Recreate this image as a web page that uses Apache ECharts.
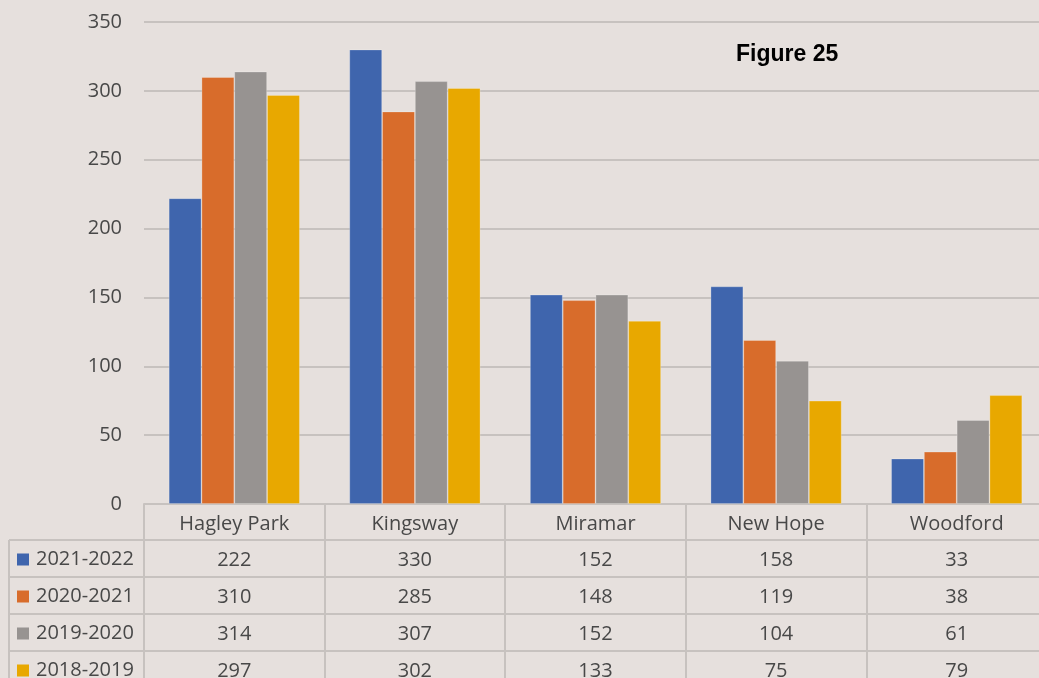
<!DOCTYPE html>
<html>
<head>
<meta charset="utf-8">
<script src="https://cdn.jsdelivr.net/npm/echarts@6/dist/echarts.min.js"></script>
<style>
html,body{margin:0;padding:0;background:#e6e0dd;overflow:hidden;width:1039px;height:678px;}
#chart{width:1047px;height:678px;}
</style>
</head>
<body>
<div id="chart"></div>
<script>
const categories = ['Hagley Park', 'Kingsway', 'Miramar', 'New Hope', 'Woodford'];
const seriesNames = ['2021-2022', '2020-2021', '2019-2020', '2018-2019'];
const s2021_2022 = [222, 330, 152, 158, 33];
const s2020_2021 = [310, 285, 148, 119, 38];
const s2019_2020 = [314, 307, 152, 104, 61];
const s2018_2019 = [297, 302, 133, 75, 79];
const yTicks = [0, 50, 100, 150, 200, 250, 300, 350];
const title = 'Figure 25';

const seriesData = [s2021_2022, s2020_2021, s2019_2020, s2018_2019];
const colors = ['#3f65ad', '#d86c2b', '#979391', '#e8a800'];
const lineColor = '#c7c2bf';
const textColor = '#484848';
const font = '"Open Sans", sans-serif';

const chart = echarts.init(document.getElementById('chart'), null, {renderer: 'canvas'});

const rows = { h: { fontSize: 20, lineHeight: 36, color: textColor, fontFamily: font } };
rows.v = { fontSize: 20, lineHeight: 37, color: textColor, fontFamily: font };

const option = {
  backgroundColor: '#e6e0dd',
  animation: false,
  grid: { left: 144, top: 22, bottom: 174, right: 0, outerBoundsMode: 'none', containLabel: false },
  xAxis: {
    type: 'category',
    data: categories,
    boundaryGap: true,
    axisLine: { show: true, lineStyle: { color: lineColor, width: 2 } },
    axisTick: { show: true, length: 200, lineStyle: { color: lineColor, width: 2 } },
    axisLabel: {
      interval: 0,
      margin: 2,
      fontFamily: font,
      formatter: function (val, idx) {
        const i = categories.indexOf(val);
        let s = '{h|' + val + '}';
        seriesData.forEach(function (d) { s += '\n{v|' + d[i] + '}'; });
        return s;
      },
      rich: rows
    }
  },
  yAxis: {
    type: 'value',
    min: yTicks[0],
    max: yTicks[yTicks.length - 1],
    interval: 50,
    axisLine: { show: false },
    axisTick: { show: false },
    axisLabel: { margin: 22, fontSize: 20, color: textColor, fontFamily: font, padding: [3, 0, 0, 0] },
    splitLine: { lineStyle: { color: lineColor, width: 2 } }
  },
  series: seriesNames.map(function (name, k) {
    return {
      name: name,
      type: 'bar',
      data: seriesData[k],
      barGap: '0%',
      barCategoryGap: '27.4%',
      itemStyle: { color: colors[k], borderColor: 'rgba(255,255,255,0.3)', borderWidth: 0.8 }
    };
  })
};
chart.setOption(option);

// table left column and horizontal row lines
const graphics = [];
const rowTop = 540, rowH = 37;
for (let r = 0; r < seriesNames.length + 1; r++) {
  const y = rowTop + r * rowH;
  graphics.push({ type: 'line', shape: { x1: 9, y1: y, x2: 1047, y2: y }, style: { stroke: lineColor, lineWidth: 2 } });
}
graphics.push({ type: 'line', shape: { x1: 9, y1: rowTop, x2: 9, y2: 678 }, style: { stroke: lineColor, lineWidth: 2 } });
seriesNames.forEach(function (name, k) {
  const cy = rowTop + k * rowH + rowH / 2 + 1;
  graphics.push({ type: 'rect', shape: { x: 17, y: cy - 6, width: 12, height: 12 }, style: { fill: colors[k] } });
  graphics.push({ type: 'text', x: 36, y: cy, style: { text: name, font: '20px ' + font, fill: textColor, verticalAlign: 'middle', align: 'left' } });
});
graphics.push({ type: 'text', x: 736, y: 55, style: { text: title, font: 'bold 23px "Liberation Sans", Arial, sans-serif', fill: '#000', verticalAlign: 'middle', align: 'left' } });
chart.setOption({ graphic: graphics });
</script>
</body>
</html>
